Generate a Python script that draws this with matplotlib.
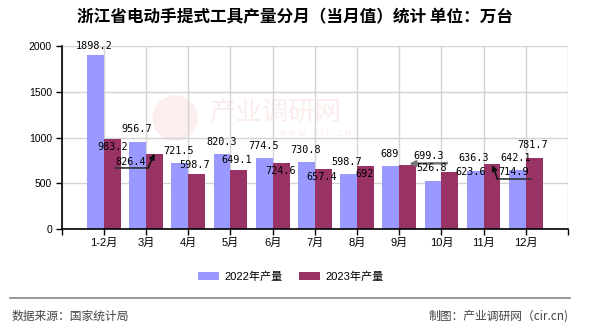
import numpy as np
import matplotlib
matplotlib.use('Agg')
from matplotlib import pyplot as plt
from matplotlib.lines import Line2D
from matplotlib.patches import Ellipse
from matplotlib.transforms import offset_copy

plt.rcParams['font.family'] = ['Liberation Sans', 'Noto Sans CJK SC']

months = ['1-2月', '3月', '4月', '5月', '6月', '7月', '8月', '9月', '10月', '11月', '12月']
prod_2022 = [1898.2, 956.7, 721.5, 820.3, 774.5, 730.8, 598.7, 689, 526.8, 636.3, 642.1]
prod_2023 = [983.2, 826.4, 598.7, 649.1, 724.6, 657.4, 692, 699.3, 623.6, 714.9, 781.7]
label_2022 = ['1898.2', '956.7', '721.5', '820.3', '774.5', '730.8', '598.7', '689', '526.8', '636.3', '642.1']
label_2023 = ['983.2', '826.4', '598.7', '649.1', '724.6', '657.4', '692', '699.3', '623.6', '714.9', '781.7']

blue = '#9999ff'
red = '#993366'

fig = plt.figure(figsize=(5.9, 3.3), dpi=100)
ax = fig.add_axes([0.1046, 0.3052, 0.858, 0.5554])

x = np.arange(len(months))
w = 0.4
ax.bar(x - w / 2, prod_2022, w, color=blue, label='2022年产量', zorder=2)
ax.bar(x + w / 2, prod_2023, w, color=red, label='2023年产量', zorder=2)

ax.set_xlim(-1, len(months))
ax.set_ylim(0, 2000)
ax.set_yticks([0, 500, 1000, 1500, 2000])
ax.set_xticks(np.arange(-1, len(months) + 1))
ax.set_xticklabels([''] + months + [''], fontsize=8)
ax.tick_params(axis='y', labelsize=7.5, length=4, width=1, pad=3)
ax.tick_params(axis='x', length=4, width=1, pad=2)
ax.grid(True, color='#d3d3d3', lw=1, zorder=0)
for s in ['top', 'right']:
    ax.spines[s].set_visible(False)
for s in ['left', 'bottom']:
    ax.spines[s].set_linewidth(1.2)
    ax.spines[s].set_zorder(3)

# faint watermark behind the bars
ax.text(0.421, 0.64, '产业调研网', transform=ax.transAxes, fontsize=19, color='#fcecec',
        ha='center', va='center', family='Noto Sans CJK SC', zorder=1)
ax.text(0.50, 0.525, 'w w w . c i r . c n', transform=ax.transAxes, fontsize=7,
        color='#fcecec', ha='center', va='center', zorder=1)
ax.add_patch(Ellipse((0.224, 0.606), 0.087, 0.24, transform=ax.transAxes,
                     color='#fdeeee', zorder=1))

# data labels: offsets in pixels (dx, dy down) from each bar top
off_2022 = [(-1, -9.6), (-1, -12.6), (-1, -12.5), (0, -12.4), (-1, -12.3), (-1, -12.3),
            (-1.5, -12.1), (-1, -12.2), (-1.3, -13.3), (-1.5, -13.3), (-1.2, -12.8)]
off_2023 = [(0, 7.5), (-23.7, 8.7), (-1.8, -9.4), (-2, -9.8), (-0.7, 8.1), (-1.4, 7.7),
            (-0.7, 8.1), (21, -9.2), (20.7, -0.5), (21.8, 8.5), (-1.5, -12.7)]
k = 0.72
lab_font = dict(fontsize=7.3, family='DejaVu Sans Mono', ha='center', va='center', zorder=5)
for i in range(len(months)):
    dx, dy = off_2022[i]
    ax.annotate(label_2022[i], (x[i] - w / 2, prod_2022[i]), xytext=(dx * k, -dy * k),
                textcoords='offset points', **lab_font)
    dx, dy = off_2023[i]
    ax.annotate(label_2023[i], (x[i] + w / 2, prod_2023[i]), xytext=(dx * k, -dy * k),
                textcoords='offset points', **lab_font)


def seg(i, a, b, color, arrow=False, lw=1.2):
    # leader line between two pixel offsets from the top of a 2023 bar
    xy = (x[i] + w / 2, prod_2023[i])
    ta = offset_copy(ax.transData, fig=fig, x=a[0] * k, y=-a[1] * k, units='points')
    tb = offset_copy(ax.transData, fig=fig, x=b[0] * k, y=-b[1] * k, units='points')
    ax.annotate('', xy=xy, xycoords=tb, xytext=xy, textcoords=ta,
                arrowprops=dict(arrowstyle='-|>' if arrow else '-', color=color, lw=lw,
                                shrinkA=0, shrinkB=0, mutation_scale=8),
                zorder=4, annotation_clip=False)


seg(1, (-39.5, 14.4), (-6.5, 14.4), '#333333')
seg(1, (-6.5, 14.4), (0, 0), '#111111', arrow=True)
seg(7, (39.4, -2), (1.5, -1.5), '#777777', arrow=True, lw=1.8)
seg(9, (5.4, 15.2), (39.4, 15.2), '#333333')
seg(9, (5.4, 15.2), (0.4, 1.2), '#111111', arrow=True)

fig.text(0.5, 0.948, '浙江省电动手提式工具产量分月（当月值）统计 单位：万台',
         fontsize=12, weight='bold', ha='center', va='center',
         family=['Noto Sans CJK SC'])

fig.legend(loc='center', bbox_to_anchor=(0.493, 0.1615), ncol=2, frameon=False,
           fontsize=8, handlelength=1.9, handleheight=0.7, handletextpad=0.5,
           columnspacing=1.5)

fig.add_artist(Line2D([10 / 590, 570 / 590], [0.096, 0.096], color='#888888', lw=1.2,
                      transform=fig.transFigure))
fig.text(12 / 590, 0.0424, '数据来源：国家统计局', fontsize=8.5, color='#444444',
         ha='left', va='center', family=['Noto Sans CJK SC'])
fig.text(569 / 590, 0.0424, '制图：产业调研网（cir.cn)', fontsize=8.5, color='#444444',
         ha='right', va='center', family=['Noto Sans CJK SC'])

fig.savefig('out.png', dpi=100)
